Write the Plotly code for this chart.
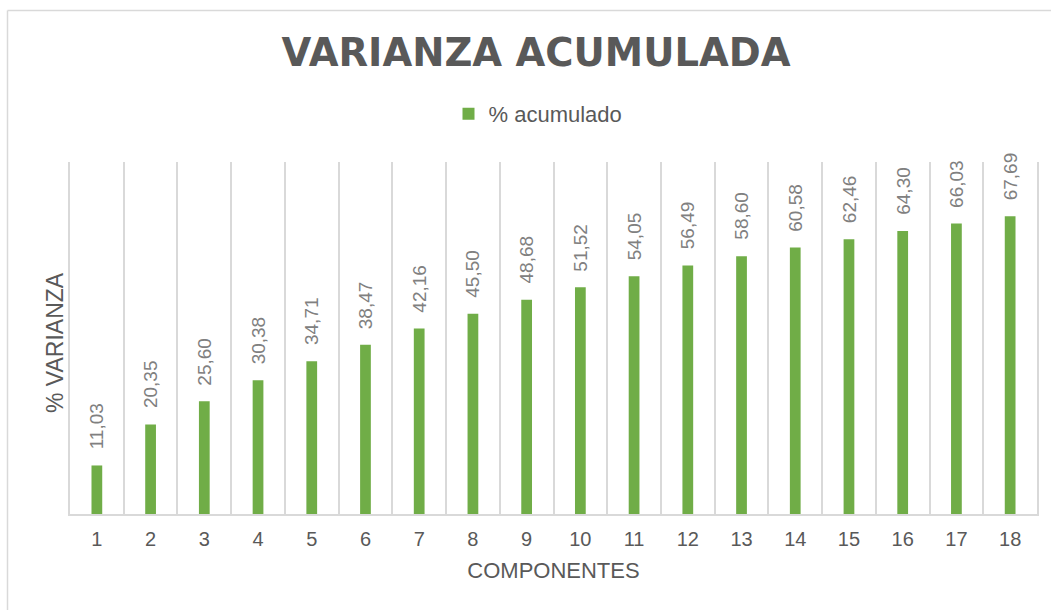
import plotly.graph_objects as go

# ---- data ----
components = [str(i) for i in range(1, 19)]
pct_accum = [11.03, 20.35, 25.60, 30.38, 34.71, 38.47, 42.16, 45.50, 48.68,
             51.52, 54.05, 56.49, 58.60, 60.58, 62.46, 64.30, 66.03, 67.69]
series_name = "% acumulado"
title_text = "VARIANZA ACUMULADA"
x_title = "COMPONENTES"
y_title = "% VARIANZA"
y_range = [0, 80]

W, H = 1051, 610
ML, MR, MT, MB = 70, 14, 162, 96
PW, PH = W - ML - MR, H - MT - MB

GREEN = "#70ad47"
GRID = "#d9d9d9"
DARK = "#595959"
LABEL = "#808080"
FONT = "Liberation Sans, Arial, sans-serif"

fig = go.Figure()
fig.add_trace(go.Bar(
    x=components, y=pct_accum, name=series_name,
    marker=dict(color=GREEN, line=dict(width=0)),
    width=0.2, showlegend=True,
))


def px_to_paper_x(px):
    return (px - ML) / PW


def px_to_paper_y(py):
    return (H - MB - py) / PH


annotations = []
for i, v in enumerate(pct_accum):
    annotations.append(dict(
        x=i, y=v, xref="x", yref="y",
        text=f"{v:.2f}".replace(".", ","),
        textangle=-90, showarrow=False,
        xanchor="center", yanchor="bottom", yshift=14,
        font=dict(family=FONT, size=19, color=LABEL),
    ))
# y-axis title
annotations.append(dict(
    x=px_to_paper_x(55), y=px_to_paper_y(343), xref="paper", yref="paper",
    text=y_title, textangle=-90, showarrow=False,
    xanchor="center", yanchor="middle",
    font=dict(family=FONT, size=23, color=DARK),
))

shapes = [
    dict(type="line", xref="paper", yref="paper",
         x0=px_to_paper_x(7.5), x1=px_to_paper_x(7.5),
         y0=px_to_paper_y(10.5), y1=px_to_paper_y(H + 5),
         line=dict(color=GRID, width=1.5)),
    dict(type="line", xref="paper", yref="paper",
         x0=px_to_paper_x(7.5), x1=px_to_paper_x(W + 5),
         y0=px_to_paper_y(10.5), y1=px_to_paper_y(10.5),
         line=dict(color=GRID, width=1.5)),
]

fig.update_layout(
    width=W, height=H,
    margin=dict(l=ML, r=MR, t=MT, b=MB, autoexpand=False),
    paper_bgcolor="white", plot_bgcolor="white",
    title=dict(
        text=title_text, x=536 / W, xref="container", xanchor="center",
        y=1 - 53 / H, yref="container", yanchor="middle",
        font=dict(family="DejaVu Sans", size=38.5, color=DARK, weight="bold"),
    ),
    legend=dict(
        orientation="h", x=538 / W, xref="container", xanchor="center",
        y=1 - 114 / H, yref="container", yanchor="middle",
        font=dict(family=FONT, size=22, color=DARK),
        bgcolor="rgba(0,0,0,0)",
    ),
    bargap=0.8,
    xaxis=dict(
        type="category", tickson="boundaries", ticks="", showgrid=True,
        gridcolor=GRID, gridwidth=1.5,
        showline=True, linecolor=GRID, linewidth=2,
        tickfont=dict(family=FONT, size=20, color=DARK),
        ticklabelstandoff=6,
        title=dict(text=x_title, standoff=14,
                   font=dict(family=FONT, size=22, color=DARK)),
        range=[-0.5, len(components) - 0.5],
    ),
    yaxis=dict(
        range=y_range, showticklabels=False, showgrid=False,
        zeroline=False, showline=True, mirror=True,
        linecolor=GRID, linewidth=1.5, ticks="",
    ),
    annotations=annotations,
    shapes=shapes,
)

fig.write_html("out.html",
               config={"displayModeBar": False},
               post_script="document.body.style.margin='0px';"
                           "document.body.style.overflow='hidden';")
